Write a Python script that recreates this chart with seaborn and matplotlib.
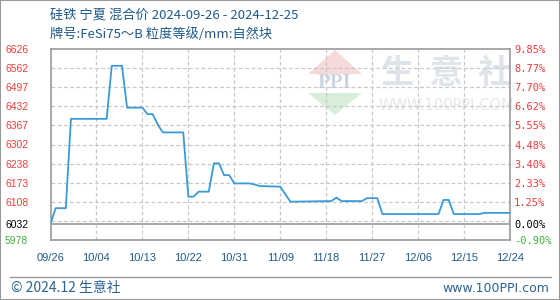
import numpy as np
import pandas as pd
import matplotlib
matplotlib.use("Agg")
import matplotlib.pyplot as plt
import seaborn as sns
from matplotlib.patches import Polygon, Rectangle
from matplotlib.lines import Line2D

# ---------------- data ----------------
dates = ["2024-09-26", "2024-09-27", "2024-09-29", "2024-09-30", "2024-10-07", "2024-10-08",
         "2024-10-10", "2024-10-11", "2024-10-14", "2024-10-15", "2024-10-16", "2024-10-17",
         "2024-10-18", "2024-10-22", "2024-10-23", "2024-10-24", "2024-10-25", "2024-10-27",
         "2024-10-28", "2024-10-29", "2024-10-30", "2024-10-31", "2024-11-01", "2024-11-04",
         "2024-11-05", "2024-11-06", "2024-11-10", "2024-11-11", "2024-11-12", "2024-11-20",
         "2024-11-21", "2024-11-22", "2024-11-26", "2024-11-27", "2024-11-29", "2024-11-30",
         "2024-12-11", "2024-12-12", "2024-12-13", "2024-12-14", "2024-12-19", "2024-12-20",
         "2024-12-25"]
prices = [6032, 6086, 6086, 6389, 6389, 6569,
          6569, 6427, 6427, 6405, 6405, 6370,
          6343, 6343, 6125, 6125, 6142, 6142,
          6238, 6238, 6198, 6198, 6170, 6170,
          6166, 6161, 6159, 6133, 6108, 6110,
          6122, 6110, 6110, 6120, 6120, 6066,
          6066, 6114, 6114, 6066, 6066, 6070,
          6070]

base_price = 6032
y_min, y_max = 5978, 6626
left_labels = ["5978", "6032", "6108", "6173", "6238", "6302", "6367", "6432", "6497", "6562", "6626"]
right_labels = ["-0.90%", "0.00%", "1.25%", "2.33%", "3.40%", "4.48%", "5.55%", "6.62%",
                "7.70%", "8.77%", "9.85%"]
x_labels = ["09/26", "10/04", "10/13", "10/22", "10/31", "11/09", "11/18", "11/27",
            "12/06", "12/15", "12/24"]
title = "硅铁 宁夏 混合价 2024-09-26 - 2024-12-25"
subtitle = "牌号:FeSi75～B 粒度等级/mm:自然块"
footer_left = "© 2024.12 生意社"
footer_right = "www.100PPI.com"

# ---------------- style ----------------
sns.set_style("white")
plt.rcParams["font.family"] = ["Noto Sans CJK SC", "DejaVu Sans"]

W, H = 560, 300
fig = plt.figure(figsize=(W / 100, H / 100), dpi=100)
fig.patch.set_facecolor("white")


def px(x, y):
    return (x / W, 1 - y / H)


ax_l, ax_r, ax_t, ax_b = 50.5, 510, 49, 240
ax = fig.add_axes([ax_l / W, 1 - ax_b / H, (ax_r - ax_l) / W, (ax_b - ax_t) / H])
ax.set_facecolor("none")

df = pd.DataFrame({"date": pd.to_datetime(dates), "price": prices})

grid_vals = np.linspace(y_min, y_max, 11)
for g in grid_vals[1:-1]:
    ax.axhline(g, color="#c8c8c8", lw=0.9, ls=(0, (3, 2)), zorder=1)
xgrid = pd.date_range("2024-09-26", periods=11, freq="9D")
for d in xgrid[1:-1]:
    ax.axvline(d, color="#c8c8c8", lw=0.9, ls=(0, (3, 2)), zorder=1)
ax.axhline(base_price, color="#999999", lw=1.2, zorder=2)

sns.lineplot(data=df, x="date", y="price", ax=ax, color="#3a9ad8", lw=1.3, zorder=3)

ax.set_xlim(pd.Timestamp("2024-09-26"), pd.Timestamp("2024-12-25"))
ax.set_ylim(y_min, y_max)
ax.set_xlabel("")
ax.set_ylabel("")

left_ticks = [y_min, base_price] + list(grid_vals[2:])
ax.set_yticks(left_ticks)
ax.set_yticklabels(left_labels, family="Liberation Sans", fontsize=7.5)
ax.tick_params(axis="y", length=0, pad=16)
for i, t in enumerate(ax.get_yticklabels()):
    t.set_color("#3cb43c" if i == 0 else ("#000000" if i == 1 else "#f03c3c"))

ax.set_xticks(xgrid)
ax.set_xticklabels(x_labels, family="Liberation Sans", fontsize=8, color="#1f5a8a")
ax.tick_params(axis="x", length=0, pad=9.5)

for s in ax.spines.values():
    s.set_color("#999999")
    s.set_linewidth(1.2)

ax2 = ax.twinx()
pct = lambda v: (v / base_price - 1) * 100
ax2.set_ylim(pct(y_min), pct(y_max))
ax2.set_yticks([pct(v) for v in left_ticks])
ax2.set_yticklabels(right_labels, family="DejaVu Sans Mono", fontsize=7.5)
ax2.tick_params(axis="y", length=0, pad=3)
for i, t in enumerate(ax2.get_yticklabels()):
    t.set_color("#3cb43c" if i == 0 else ("#000000" if i == 1 else "#f03c3c"))
for s in ax2.spines.values():
    s.set_visible(False)

# ---------------- texts ----------------
fig.text(*px(50, 15), title, fontsize=9.5, color="#1f5a8a", va="center", ha="left")
fig.text(*px(50, 34), subtitle, fontsize=9.5, color="#1f5a8a", va="center", ha="left")

fig.add_artist(Line2D([10 / W, 551 / W], [1 - 277 / H] * 2, color="#999999", lw=1,
                      transform=fig.transFigure))
fig.text(*px(11, 288), footer_left, fontsize=10, color="#2a6496", va="center", ha="left")
fig.text(*px(549, 288), footer_right, fontsize=9, color="#2a6496", va="center", ha="right",
         family=["DejaVu Sans"])

# watermark
fig.text(*px(446, 73), "生  意  社", fontsize=24, color="#dfe3ea", va="center", ha="center",
         weight="bold", zorder=-1)
fig.text(*px(446, 106), "WWW.100PPI.COM", fontsize=10.5, color="#e4e7ec", va="center",
         ha="center", family=["DejaVu Sans"], zorder=-1)
fig.add_artist(Polygon([px(308, 74), px(362, 74), px(335, 50)], closed=True,
                       facecolor="#f6d9d9", edgecolor="none", transform=fig.transFigure,
                       zorder=-1))
fig.add_artist(Polygon([px(308, 93), px(362, 93), px(335, 115)], closed=True,
                       facecolor="#d8eeda", edgecolor="none", transform=fig.transFigure,
                       zorder=-1))
fig.text(*px(335, 83), "PPI", fontsize=15, color="#cdd5e3", va="center", ha="center",
         family=["Liberation Serif"], weight="bold", zorder=-1)

fig.add_artist(Rectangle((0, 0), 1, 1, fill=False, edgecolor="#999999", lw=1.5,
                         transform=fig.transFigure))

fig.savefig("out.png", dpi=100)
